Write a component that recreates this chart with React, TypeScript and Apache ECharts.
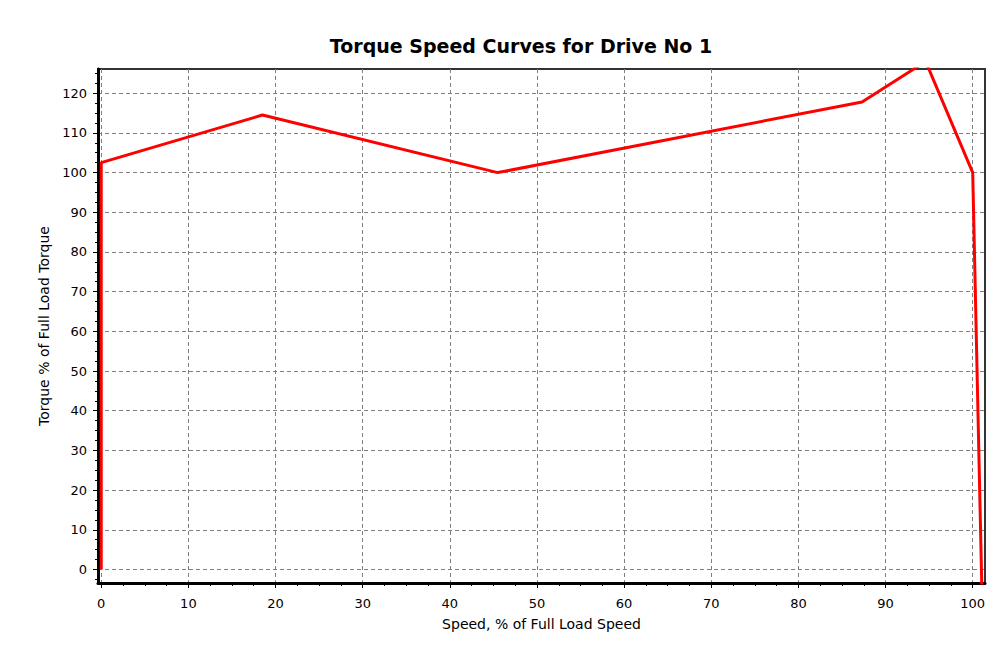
import React, { useEffect, useRef } from "react";
import * as echarts from "echarts";

// Data
const speed = [0, 0, 18.5, 45.5, 87.3, 94.6, 100, 101, 101.05];
const torque = [0, 102.5, 114.5, 100, 117.8, 128, 100, 0, -5];

const xMajorTicks = [0, 10, 20, 30, 40, 50, 60, 70, 80, 90, 100];
const yMajorTicks = [0, 10, 20, 30, 40, 50, 60, 70, 80, 90, 100, 110, 120];
const xMinorTicks = [-0.0].concat([]).filter(() => false).concat(
  xMajorTicks.flatMap((v) => [v + 2.5, v + 5, v + 7.5]).filter((v) => v < 101)
);
const yMinorTicks = [-2.5].concat(
  yMajorTicks.flatMap((v) => [v + 2.5, v + 5, v + 7.5]).filter((v) => v < 126)
);

const titleText = "Torque Speed Curves for Drive No 1";
const xName = "Speed, % of Full Load Speed";
const yName = "Torque % of Full Load Torque";

const X_MIN = -0.37;
const X_MAX = 101.41;
const Y_MIN = -3.4;
const Y_MAX = 126.1;

const FONT = "DejaVu Sans";

export default function App() {
  const ref = useRef<HTMLDivElement>(null);
  useEffect(() => {
    if (!ref.current) return;
    const chart = echarts.init(ref.current, null, { renderer: "svg" });
    const gridLine = { show: true, lineStyle: { color: "#808080", type: [4, 3], width: 1 } };
    chart.setOption({
      animation: false,
      backgroundColor: "#ffffff",
      graphic: [
        {
          type: "text",
          x: 521,
          y: 36,
          style: {
            text: titleText,
            font: `bold 19px "${FONT}"`,
            fill: "#000",
            textAlign: "center",
          },
        },
      ],
      grid: {
        left: 98,
        right: 18,
        top: 69,
        bottom: 73,
        show: true,
        borderColor: "#333",
        borderWidth: 2,
        containLabel: false,
      },
      xAxis: [
        {
          type: "value",
          min: X_MIN,
          max: X_MAX,
          position: "bottom",
          axisLine: { show: true, onZero: false, lineStyle: { color: "#000", width: 3 } },
          axisTick: { show: true, customValues: xMajorTicks, length: 5, lineStyle: { color: "#000", width: 1 } },
          axisLabel: {
            show: true,
            customValues: xMajorTicks,
            margin: 14,
            fontSize: 13,
            fontFamily: FONT,
            color: "#000",
          },
          splitLine: gridLine,
          name: xName,
          nameLocation: "middle",
          nameGap: 34,
          nameTextStyle: { fontSize: 14, fontFamily: FONT, color: "#000" },
        },
        {
          type: "value",
          min: X_MIN,
          max: X_MAX,
          position: "bottom",
          axisLine: { show: false, onZero: false },
          axisTick: { show: true, customValues: xMinorTicks, length: 3, lineStyle: { color: "#000", width: 1 } },
          axisLabel: { show: false },
          splitLine: { show: false },
        },
      ],
      yAxis: [
        {
          type: "value",
          min: Y_MIN,
          max: Y_MAX,
          position: "left",
          axisLine: { show: true, onZero: false, lineStyle: { color: "#000", width: 3 } },
          axisTick: { show: true, customValues: yMajorTicks, length: 5, lineStyle: { color: "#000", width: 1 } },
          axisLabel: {
            show: true,
            customValues: yMajorTicks,
            margin: 11,
            fontSize: 13,
            fontFamily: FONT,
            color: "#000",
          },
          splitLine: gridLine,
          name: yName,
          nameLocation: "middle",
          nameGap: 45,
          nameTextStyle: { fontSize: 14, fontFamily: FONT, color: "#000" },
        },
        {
          type: "value",
          min: Y_MIN,
          max: Y_MAX,
          position: "left",
          axisLine: { show: false, onZero: false },
          axisTick: { show: true, customValues: yMinorTicks, length: 3, lineStyle: { color: "#000", width: 1 } },
          axisLabel: { show: false },
          splitLine: { show: false },
        },
      ],
      series: [
        {
          type: "line",
          xAxisIndex: 0,
          yAxisIndex: 0,
          data: speed.map((s, i) => [s, torque[i]]),
          showSymbol: false,
          symbol: "none",
          clip: true,
          lineStyle: { color: "#ff0000", width: 3 },
          z: 5,
        },
      ],
    });
    return () => chart.dispose();
  }, []);
  return (
    <div
      ref={ref}
      style={{ position: "absolute", left: 0, top: 0, width: 1003, height: 656 }}
    />
  );
}
